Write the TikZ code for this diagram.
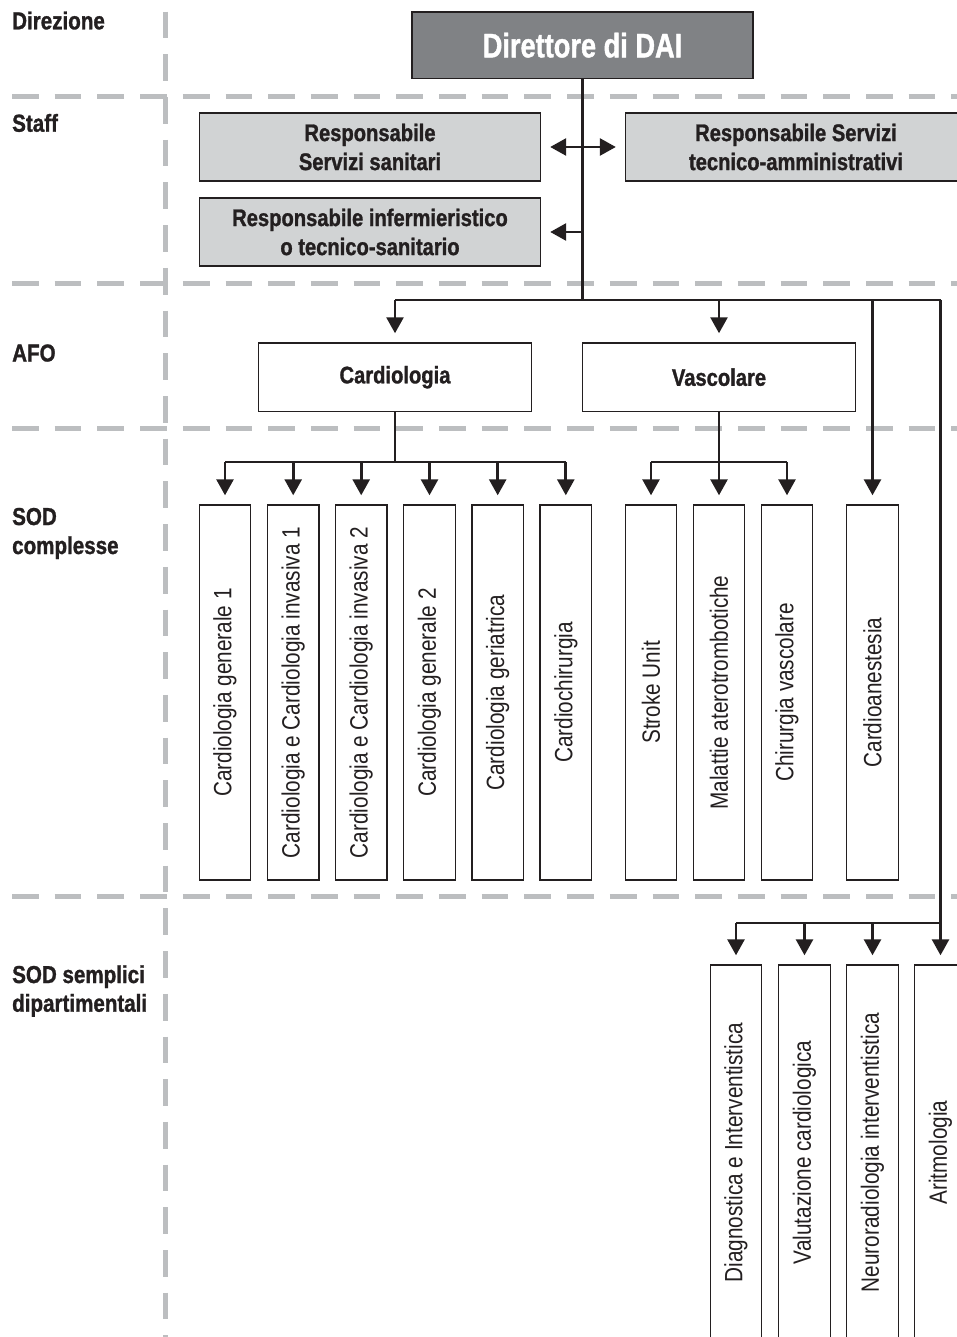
\documentclass[tikz,border=0pt]{standalone}
\usepackage{fontspec}
\usetikzlibrary{arrows.meta}
\setmainfont{Liberation Sans}
\newfontfamily\bfam{Liberation Sans}[FakeStretch=0.84, FakeBold=1.2]
\newfontfamily\rfam{Liberation Sans}[FakeStretch=0.83]
\newfontfamily\tfam{Liberation Sans}[FakeStretch=0.80, FakeBold=1.2]
\definecolor{ink}{HTML}{231F20}
\definecolor{dashgray}{HTML}{BCBEC0}
\definecolor{dirgray}{HTML}{808285}
\definecolor{staffgray}{HTML}{D1D3D4}
\tikzset{
  sepline/.style={dashgray, line width=5pt, dash pattern=on 26.7pt off 16pt},
  lab/.style={anchor=base west, inner sep=0pt, text=ink, font=\bfam\bfseries\fontsize{24.5}{29}\selectfont},
  boxbase/.style={draw=ink, line width=1.4pt, inner sep=0pt, align=center, text=ink},
  dirbox/.style={boxbase, fill=dirgray, text=white, font=\tfam\bfseries\fontsize{34}{40}\selectfont},
  staffbox/.style={boxbase, fill=staffgray, minimum width=341pt, minimum height=68pt, font=\bfam\bfseries\fontsize{24}{29}\selectfont},
  afobox/.style={boxbase, fill=white, minimum width=273pt, minimum height=68.5pt, font=\bfam\bfseries\fontsize{24}{29}\selectfont},
  vbox/.style={boxbase, fill=white, minimum width=51.5pt, minimum height=375pt},
  vtext/.style={rotate=90, inner sep=0pt, text=ink, font=\rfam\fontsize{25}{29}\selectfont},
  wire/.style={ink, line width=2.7pt},
  arr/.style={wire, -{Triangle[length=16pt,width=17pt]}, shorten >=9pt},
  darr/.style={wire, {Triangle[length=16pt,width=17pt]}-{Triangle[length=16pt,width=17pt]}, shorten >=9pt, shorten <=9pt},
}
\begin{document}
\begin{tikzpicture}[x=1pt,y=-1pt]
\useasboundingbox (0,0) rectangle (957,1337);
\clip (0,0) rectangle (957,1337);
\fill[white] (0,0) rectangle (957,1337);

% separators
\draw[sepline] (165,11.7) -- (165,1337);
\draw[sepline] (12,96.7) -- (957,96.7);
\draw[sepline] (12,284) -- (957,284);
\draw[sepline] (12,428.3) -- (957,428.3);
\draw[sepline] (12,896.7) -- (957,896.7);

% row labels
\node[lab] (lDir) at (12,29.3) {Direzione};
\node[lab] (lStaff) at (12,131.7) {Staff};
\node[lab] (lAFO) at (12,361.5) {AFO};
\node[lab] (lSOD1) at (12,525) {SOD};
\node[lab] (lSOD2) at (12,554) {complesse};
\node[lab] (lSem1) at (12,983) {SOD semplici};
\node[lab] (lSem2) at (12,1011.7) {dipartimentali};

% director
\node[dirbox, minimum width=341pt, minimum height=66.5pt] (dir) at (582.5,45.2) {Direttore di DAI};

% staff
\node[staffbox] (rss) at (370,147) {Responsabile\\Servizi sanitari};
\node[staffbox] (rsta) at (796,147) {Responsabile Servizi\\tecnico-amministrativi};
\node[staffbox] (rinf) at (370,232) {Responsabile infermieristico\\o tecnico-sanitario};

% AFO
\node[afobox] (card) at (395,377.2) {Cardiologia};
\node[afobox] (vasc) at (719,377.2) {Vascolare};

% SOD complesse
\node[vbox] (c1) at (225,692.5) {};
\node[vbox] (c2) at (293.2,692.5) {};
\node[vbox] (c3) at (361.2,692.5) {};
\node[vbox] (c4) at (429.5,692.5) {};
\node[vbox] (c5) at (497.7,692.5) {};
\node[vbox] (c6) at (565.8,692.5) {};
\node[vbox] (v1) at (651,692.5) {};
\node[vbox] (v2) at (719,692.5) {};
\node[vbox] (v3) at (787,692.5) {};
\node[vbox] (ca) at (872.5,692.5) {};
\node[vtext] (c1t) at (c1.center) {Cardiologia generale 1};
\node[vtext] (c2t) at (c2.center) {Cardiologia e Cardiologia invasiva 1};
\node[vtext] (c3t) at (c3.center) {Cardiologia e Cardiologia invasiva 2};
\node[vtext] (c4t) at (c4.center) {Cardiologia generale 2};
\node[vtext] (c5t) at (c5.center) {Cardiologia geriatrica};
\node[vtext] (c6t) at (c6.center) {Cardiochirurgia};
\node[vtext] (v1t) at (v1.center) {Stroke Unit};
\node[vtext] (v2t) at (v2.center) {Malattie aterotrombotiche};
\node[vtext] (v3t) at (v3.center) {Chirurgia vascolare};
\node[vtext] (cat) at (ca.center) {Cardioanestesia};

% SOD semplici dipartimentali
\node[vbox] (s1) at (736,1152.5) {};
\node[vbox] (s2) at (804.5,1152.5) {};
\node[vbox] (s3) at (872.5,1152.5) {};
\node[vbox] (s4) at (940.5,1152.5) {};
\node[vtext] (s1t) at (s1.center) {Diagnostica e Interventistica};
\node[vtext] (s2t) at (s2.center) {Valutazione cardiologica};
\node[vtext] (s3t) at (s3.center) {Neuroradiologia interventistica};
\node[vtext] (s4t) at (s4.center) {Aritmologia};

% junction coordinates
\coordinate (j0) at (582.5,300);
\coordinate (jR) at (940.5,300);
\coordinate (jL) at (940.5,923);
\coordinate (jc) at (395,462);
\coordinate (jv) at (719,462);

% main trunk
\draw[wire] (dir.south) -- (j0);
\draw[darr] (rss.east) -- (rsta.west);
\draw[arr] (dir.south |- rinf.east) -- (rinf.east);
\draw[wire] (card.north |- j0) -- (jR);
\draw[arr] (card.north |- j0) -- (card.north);
\draw[arr] (vasc.north |- j0) -- (vasc.north);
\draw[arr] (ca.north |- j0) -- (ca.north);
\draw[wire] (jR) -- (jL);

% Cardiologia branch
\draw[wire] (card.south) -- (jc);
\draw[wire] (c1.north |- jc) -- (c6.north |- jc);
\foreach \n in {c1,c2,c3,c4,c5,c6}
  \draw[arr] (\n.north |- jc) -- (\n.north);

% Vascolare branch
\draw[wire] (vasc.south) -- (jv);
\draw[wire] (v1.north |- jv) -- (v3.north |- jv);
\foreach \n in {v1,v2,v3}
  \draw[arr] (\n.north |- jv) -- (\n.north);

% SOD semplici branch
\draw[wire] (s1.north |- jL) -- (jL);
\foreach \n in {s1,s2,s3,s4}
  \draw[arr] (\n.north |- jL) -- (\n.north);
\end{tikzpicture}
\end{document}
